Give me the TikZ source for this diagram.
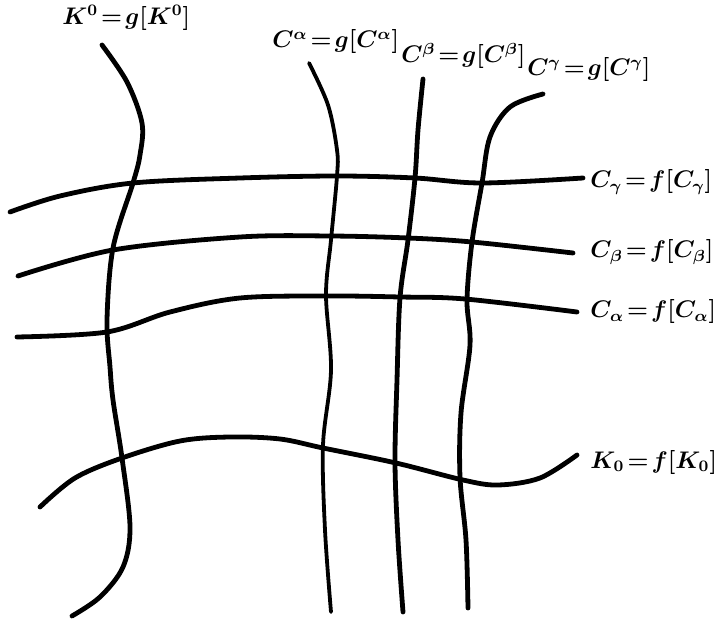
\documentclass[tikz,border=0pt]{standalone}
\usepackage{amsmath}
\thickmuskip=2mu
\begin{document}
\begin{tikzpicture}[x=0.5pt,y=-0.5pt,
  curve/.style={line width=2.4pt, line cap=round, line join=round},
  thincurve/.style={line width=1.9pt, line cap=round, line join=round},
  lab/.style={font=\fontsize{11.5}{13}\selectfont\boldmath, inner sep=0pt, anchor=west}]
\useasboundingbox (0,0) rectangle (718,620);
% vertical curves
\draw[curve] plot[smooth, tension=0.55] coordinates {(102,45) (127,82) (142,123) (140,155) (133,183) (113,248) (107,320) (110,367) (113,400) (122,458) (130,527) (123,567) (100,597) (72,616)};
\draw[thincurve] plot[smooth, tension=0.55] coordinates {(309,63) (328,105) (337,150) (337,176) (331,240) (326,295) (331,370) (323,445) (325,530) (331,612)};
\draw[curve] plot[smooth, tension=0.55] coordinates {(423,79) (418,130) (415,178) (408,240) (400,298) (397,380) (395,462) (398,540) (403,612)};
\draw[curve] plot[smooth, tension=0.55] coordinates {(543,94) (510,107) (490,137) (482,183) (472,242) (467,300) (470,345) (461,413) (460,477) (466,540) (468,608)};
% horizontal curves
\draw[curve] plot[smooth, tension=0.55] coordinates {(10,212) (60,196) (133,183) (240,178) (337,176) (415,178) (482,183) (583,178)};
\draw[curve] plot[smooth, tension=0.55] coordinates {(18,276) (113,250) (240,237) (330,236) (408,238) (472,242) (573,253)};
\draw[curve] plot[smooth, tension=0.55] coordinates {(17,337) (107,332) (170,312) (240,298) (330,296) (400,297) (465,299) (577,312)};
\draw[curve] plot[smooth, tension=0.55] coordinates {(40,507) (75,478) (122,458) (180,441) (230,437) (280,439) (323,448) (396,463) (463,480) (498,485) (540,478) (577,455)};
% labels
\node[lab] (l1) at (62,18) {$K^0=g[K^0]$};
\node[lab] (l2) at (272,42) {$C^\alpha=g[C^\alpha]$};
\node[lab] (l3) at (401,56) {$C^\beta=g[C^\beta]$};
\node[lab] (l4) at (527,70) {$C^\gamma=g[C^\gamma]$};
\node[lab] (l5) at (590,182) {$C_\gamma=f[C_\gamma]$};
\node[lab] (l6) at (590,252) {$C_\beta=f[C_\beta]$};
\node[lab] (l7) at (590,312) {$C_\alpha=f[C_\alpha]$};
\node[lab] (l8) at (590,462) {$K_0=f[K_0]$};
\end{tikzpicture}
\end{document}
